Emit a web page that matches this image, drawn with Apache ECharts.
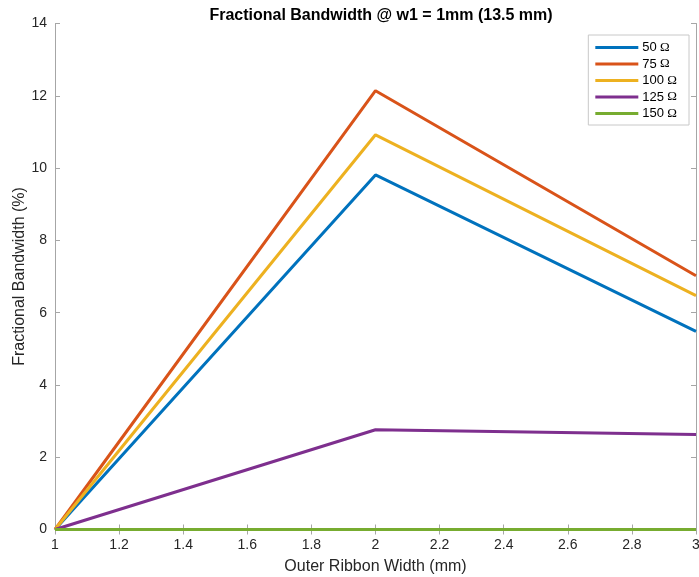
<!DOCTYPE html>
<html>
<head>
<meta charset="utf-8">
<script src="https://cdn.jsdelivr.net/npm/echarts@6/dist/echarts.min.js"></script>
<style>
  html, body { margin: 0; padding: 0; background: #fff; }
  #chart { width: 699px; height: 577px; }
</style>
</head>
<body>
<div id="chart"></div>
<script>
// Outer ribbon width (mm) sampled at three points
const widths = [1, 2, 3];
// Fractional bandwidth (%) for each impedance
const bw50 = [0, 9.81, 5.48];
const bw75 = [0, 12.14, 7.02];
const bw100 = [0, 10.92, 6.47];
const bw125 = [0, 2.76, 2.63];
const bw150 = [0, 0, 0];
const impedances = ['50', '75', '100', '125', '150'];
const colors = ['#0072BD', '#D95319', '#EDB120', '#7E2F8E', '#77AC30'];
const seriesData = [bw50, bw75, bw100, bw125, bw150];

const font = 'Helvetica, "Liberation Sans", Arial, sans-serif';
const axisGray = '#a6a6a6';
const textDark = '#262626';

const chart = echarts.init(document.getElementById('chart'));

const baseX = {
  type: 'value', min: 1, max: 3, interval: 0.2,
  axisLine: { show: true, lineStyle: { color: axisGray, width: 1 } },
  splitLine: { show: false },
  axisTick: { show: true, inside: true, length: 5, lineStyle: { color: axisGray } }
};
const baseY = {
  type: 'value', min: 0, max: 14, interval: 2,
  axisLine: { show: true, lineStyle: { color: axisGray, width: 1 } },
  splitLine: { show: false },
  axisTick: { show: true, inside: true, length: 5, lineStyle: { color: axisGray } }
};

chart.setOption({
  animation: false,
  backgroundColor: '#fff',
  title: {
    text: 'Fractional Bandwidth @ w1 = 1mm (13.5 mm)',
    left: 376, top: 3, textAlign: 'center',
    textStyle: { fontFamily: font, fontSize: 16, fontWeight: 'bold', color: '#000' }
  },
  grid: { left: 55, right: 3, top: 23.5, bottom: 47.5, outerBoundsMode: 'none', containLabel: false },
  legend: {
    orient: 'vertical',
    right: 10, top: 35,
    backgroundColor: '#fff',
    borderColor: '#c8c8c8', borderWidth: 1,
    padding: [6, 12, 5, 7],
    itemGap: 3.5,
    itemWidth: 43, itemHeight: 3,
    icon: 'rect',
    data: impedances.map(z => z + ' Ω'),
    formatter: function (name) {
      const parts = name.split(' ');
      return '{n|' + parts[0] + '} {o|' + parts[1] + '}';
    },
    textStyle: {
      padding: [0, 0, 0, -1],
      rich: {
        n: { fontFamily: font, fontSize: 13, color: '#000', lineHeight: 13 },
        o: { fontFamily: '"Liberation Serif", "Times New Roman", serif', fontSize: 13, color: '#000', lineHeight: 13 }
      }
    }
  },
  xAxis: [
    Object.assign({}, baseX, {
      position: 'bottom',
      name: 'Outer Ribbon Width (mm)',
      nameLocation: 'middle', nameGap: 29, nameMoveOverlap: false,
      nameTextStyle: { fontFamily: font, fontSize: 16, color: textDark },
      axisLabel: {
        show: true, margin: 9,
        fontFamily: font, fontSize: 14, color: textDark,
        formatter: v => String(Math.round(v * 10) / 10)
      }
    }),
    Object.assign({}, baseX, { position: 'top', axisLabel: { show: false } })
  ],
  yAxis: [
    Object.assign({}, baseY, {
      position: 'left',
      name: 'Fractional Bandwidth (%)',
      nameLocation: 'middle', nameGap: 27, nameMoveOverlap: false,
      nameTextStyle: { fontFamily: font, fontSize: 16, color: textDark },
      axisLabel: {
        show: true, margin: 8,
        fontFamily: font, fontSize: 14, color: textDark
      }
    }),
    Object.assign({}, baseY, { position: 'right', axisLabel: { show: false } })
  ],
  series: seriesData.map((vals, i) => ({
    name: impedances[i] + ' Ω',
    type: 'line',
    xAxisIndex: 0, yAxisIndex: 0,
    data: widths.map((w, j) => [w, vals[j]]),
    showSymbol: false,
    symbol: 'none',
    clip: false,
    lineStyle: { color: colors[i], width: 3 },
    itemStyle: { color: colors[i] },
    z: 2 + i
  }))
});
</script>
</body>
</html>
